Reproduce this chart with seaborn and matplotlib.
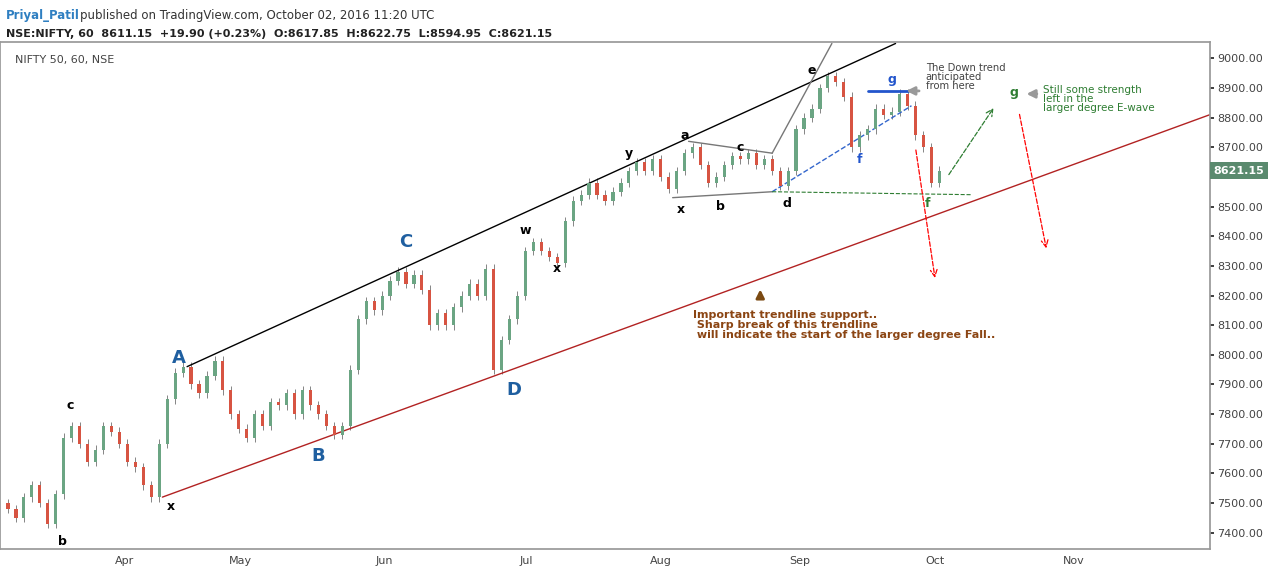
import numpy as np
import pandas as pd
import seaborn as sns
import matplotlib.pyplot as plt

# closes, roughly one every few trading sessions
closes = [7480, 7450, 7520, 7560, 7500, 7430, 7530, 7720, 7760, 7700, 7640, 7680, 7760, 7740,
          7700, 7640, 7620, 7560, 7520, 7700, 7850, 7940, 7960, 7900, 7870, 7930, 7980, 7880,
          7800, 7750, 7720, 7800, 7760, 7840, 7830, 7870, 7800, 7880, 7830, 7800, 7760, 7730,
          7760, 7950, 8120, 8180, 8150, 8200, 8250, 8280, 8240, 8270, 8220, 8100, 8140, 8100,
          8160, 8200, 8240, 8200, 8290, 7950, 8050, 8120, 8200, 8350, 8380, 8350, 8330, 8310,
          8450, 8520, 8540, 8580, 8540, 8520, 8550, 8580, 8620, 8650, 8620, 8660, 8600, 8560,
          8620, 8680, 8700, 8640, 8580, 8600, 8640, 8670, 8660, 8680, 8640, 8660, 8620, 8570,
          8620, 8760, 8800, 8830, 8900, 8940, 8920, 8870, 8700, 8740, 8760, 8830, 8810, 8820,
          8880, 8840, 8740, 8700, 8580, 8621.15]
first_open = 7500
month_labels = ["Apr", "May", "Jun", "Jul", "Aug", "Sep", "Oct", "Nov"]
month_pos = [14.6, 29.25, 47.25, 65.1, 82.0, 99.5, 116.5, 133.9]
price_ticks = list(range(7400, 9001, 100))
last_price = 8621.15

df = pd.DataFrame({"close": closes})
df["open"] = [first_open] + closes[:-1]
df["idx"] = np.arange(len(df))
up = df["close"] >= df["open"]

sns.set_theme(style="white")
fig = plt.figure(figsize=(12.7, 5.77), dpi=100)
ax = fig.add_axes([0.0, 28 / 577, 1210 / 1270, 1 - 70 / 577])

lo = df[["open", "close"]].min(axis=1)
hi = df[["open", "close"]].max(axis=1)
ax.vlines(df["idx"], lo - 15, hi + 15, color="#555555", lw=0.5)
ax.bar(df["idx"], (hi - lo).clip(lower=4), bottom=lo, width=0.4,
       color=np.where(up, "#6ba583", "#d75442"), linewidth=0, zorder=3)

def seg(x, y, **kw):
    sns.lineplot(x=x, y=y, ax=ax, legend=False, **kw)

seg([22.5, 111.5], [7960, 9050], color="black", lw=1)
seg([19.4, 151], [7520, 8810], color="#b22222", lw=1)
seg([83.5, 96], [8530, 8550], color="#777777", lw=1)
seg([85.5, 96], [8720, 8680], color="#777777", lw=1)
seg([96, 103.5], [8680, 9050], color="#777777", lw=1)
seg([96, 113.5], [8550, 8840], color="#3366cc", lw=1, linestyle="--")
seg([96, 121], [8550, 8540], color="#2e7d32", lw=0.8, linestyle="--")
seg([108, 113], [8890, 8890], color="#2255cc", lw=2)

arrows = [((114, 8700), (116.5, 8250), "red"), ((127, 8820), (130.5, 8350), "red"),
          ((118, 8600), (124, 8840), "#2e7d32")]
for (x0, y0), (x1, y1), c in arrows:
    ax.annotate("", xy=(x1, y1), xytext=(x0, y0),
                arrowprops=dict(arrowstyle="->", color=c, ls="--", lw=0.9))

labels = [(21.5, 7990, "A", "#1f5fa0", 13), (39, 7660, "B", "#1f5fa0", 13),
          (50, 8380, "C", "#1f5fa0", 13), (63.5, 7880, "D", "#1f5fa0", 13),
          (7.8, 7830, "c", "black", 9), (6.8, 7370, "b", "black", 9),
          (20.5, 7490, "x", "black", 9), (65, 8420, "w", "black", 9),
          (69, 8290, "x", "black", 9), (78, 8680, "y", "black", 9),
          (85, 8740, "a", "black", 9), (92, 8700, "c", "black", 9),
          (84.5, 8490, "x", "black", 9), (89.5, 8500, "b", "black", 9),
          (97.8, 8510, "d", "black", 9), (101, 8960, "e", "black", 9),
          (111, 8930, "g", "#2255cc", 9), (107, 8660, "f", "#2255cc", 9),
          (115.5, 8510, "f", "#2e7d32", 9), (126.4, 8885, "g", "#2e7d32", 9)]
for x, y, t, c, s in labels:
    ax.text(x, y, t, color=c, fontsize=s, ha="center", va="center", fontweight="bold")

ax.text(115.3, 8985, "The Down trend\nanticipated\nfrom here", fontsize=7.2, color="#444444",
        va="top", linespacing=0.9)
ax.annotate("", xy=(112.5, 8890), xytext=(114.8, 8890),
            arrowprops=dict(arrowstyle="-|>", color="#999999", lw=2))
ax.text(130, 8910, "Still some strength\nleft in the\nlarger degree E-wave", fontsize=7.5,
        color="#2e7d32", va="top", linespacing=0.9)
ax.annotate("", xy=(127.6, 8880), xytext=(129.6, 8880),
            arrowprops=dict(arrowstyle="-|>", color="#999999", lw=2))
ax.annotate("", xy=(94.5, 8230), xytext=(94.5, 8190),
            arrowprops=dict(arrowstyle="-|>", color="#7b4a12", lw=2))
ax.text(86, 8150, "Important trendline support..\n Sharp break of this trendline\n will indicate the start of the larger degree Fall..",
        fontsize=8, color="#8b4513", fontweight="bold", va="top", linespacing=0.95)

ax.set_xlim(-1, 151)
ax.set_ylim(7345, 9055)
ax.set_xticks(month_pos)
ax.set_xticklabels(month_labels, fontsize=8, color="#444444")
ax.yaxis.tick_right()
ax.set_yticks(price_ticks)
# the last-price box covers the 8600 label in the reference
ax.set_yticklabels(["" if p == 8600 else f"{p:.2f}" for p in price_ticks],
                   fontsize=8, color="#444444")
ax.tick_params(axis="both", length=3, pad=2)
for s in ax.spines.values():
    s.set_color("#999999")
ax.text(0.012, 0.975, "NIFTY 50, 60, NSE", transform=ax.transAxes, fontsize=8,
        color="#444444", va="top")

ax.text(1.003, last_price, f"{last_price:.2f}", transform=ax.get_yaxis_transform(), fontsize=8,
        color="white", va="center", fontweight="bold",
        bbox=dict(boxstyle="square,pad=0.3", fc="#5a8a6e", ec="none"))

fig.text(0.005, 0.985, "Priyal_Patil", color="#2f7fc1", fontsize=8.5, fontweight="bold", va="top")
fig.text(0.063, 0.985, "published on TradingView.com, October 02, 2016 11:20 UTC",
         color="#333333", fontsize=8.5, va="top")
fig.text(0.005, 0.95, "NSE:NIFTY, 60  8611.15  +19.90 (+0.23%)  O:8617.85  H:8622.75  L:8594.95  C:8621.15",
         color="#222222", fontsize=8, fontweight="bold", va="top")

fig.savefig("out.png", dpi=100)
